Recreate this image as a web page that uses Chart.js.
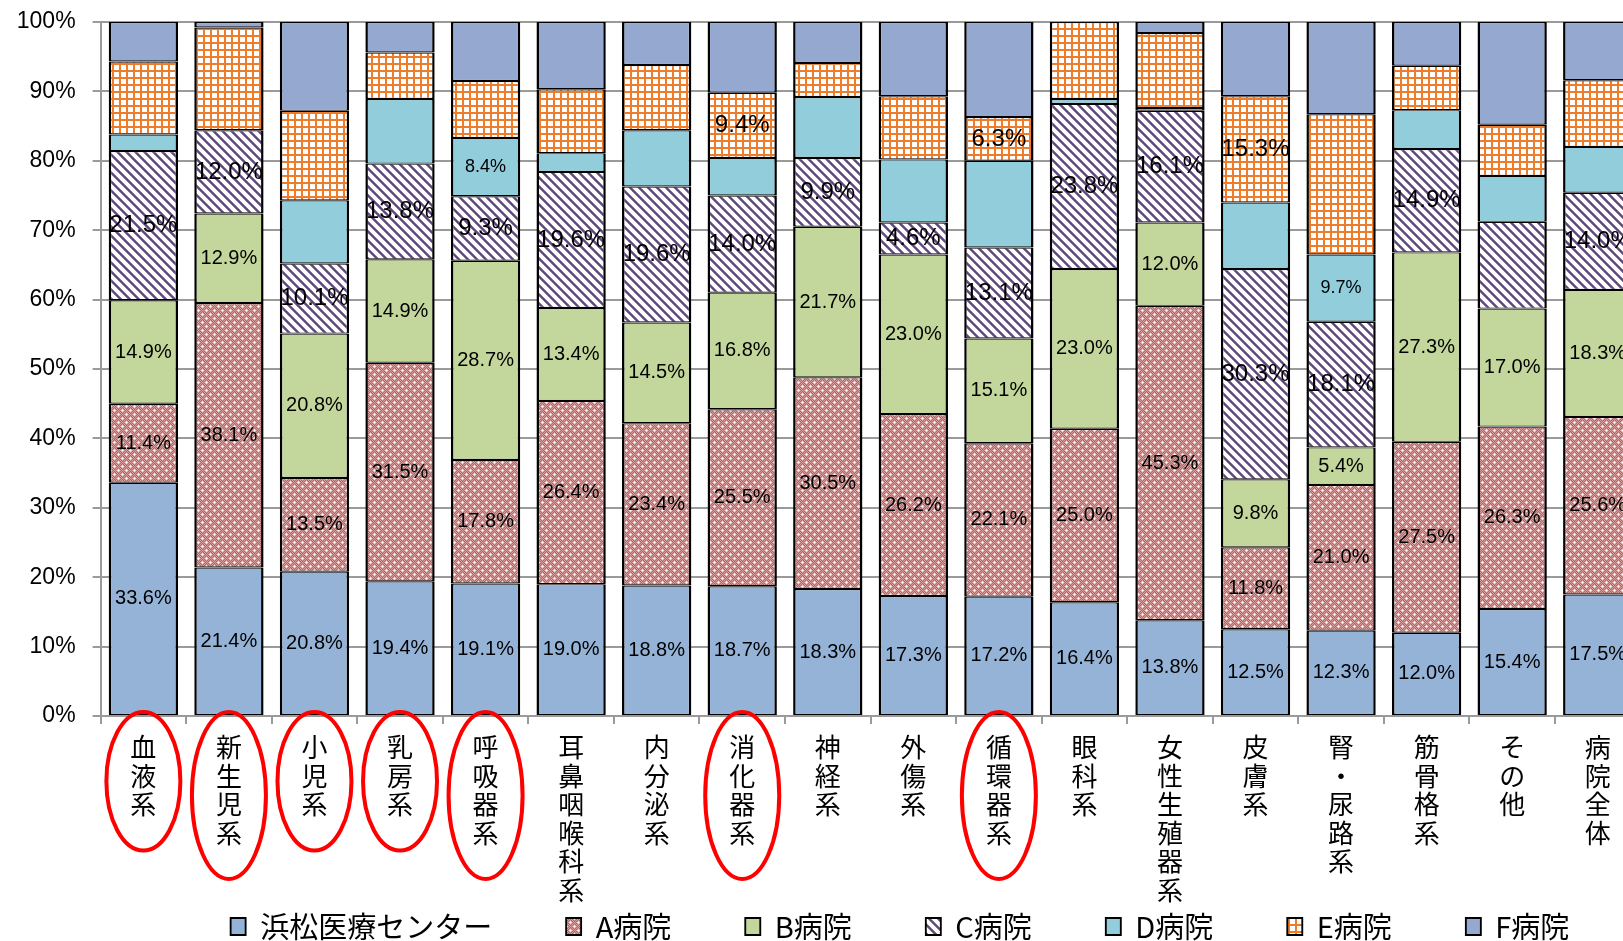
<!DOCTYPE html>
<html><head><meta charset="utf-8">
<script src="https://cdn.jsdelivr.net/npm/chart.js@4/dist/chart.umd.min.js"></script>
<style>
html,body{margin:0;padding:0;overflow:hidden;background:#fff;width:1623px;height:941px}
canvas{display:block}
</style></head><body>
<canvas id="c" width="1800" height="951" style="width:1800px;height:951px"></canvas>
<script>
const categories = ['血液系','新生児系','小児系','乳房系','呼吸器系','耳鼻咽喉科系','内分泌系','消化器系','神経系','外傷系','循環器系','眼科系','女性生殖器系','皮膚系','腎・尿路系','筋骨格系','その他','病院全体'];
const seriesNames = ['浜松医療センター','A病院','B病院','C病院','D病院','E病院','F病院'];
const hamamatsu = [33.6,21.4,20.8,19.4,19.1,19.0,18.8,18.7,18.3,17.3,17.2,16.4,13.8,12.5,12.3,12.0,15.4,17.5];
const hospitalA = [11.4,38.1,13.5,31.5,17.8,26.4,23.4,25.5,30.5,26.2,22.1,25.0,45.3,11.8,21.0,27.5,26.3,25.6];
const hospitalB = [14.9,12.9,20.8,14.9,28.7,13.4,14.5,16.8,21.7,23.0,15.1,23.0,12.0,9.8,5.4,27.3,17.0,18.3];
const hospitalC = [21.5,12.0,10.1,13.8,9.3,19.6,19.6,14.0,9.9,4.6,13.1,23.8,16.1,30.3,18.1,14.9,12.5,14.0];
const hospitalD = [2.4,0,9.1,9.3,8.4,2.7,8.1,5.4,8.8,9.1,12.5,0.7,0.4,9.6,9.7,5.6,6.6,6.6];
const hospitalE = [10.5,14.8,12.9,6.7,8.2,9.2,9.4,9.4,4.9,9.1,6.3,11.1,10.8,15.3,20.2,6.4,7.4,9.6];
const hospitalF = [5.7,0.8,12.8,4.4,8.5,9.7,6.2,10.2,5.9,10.7,13.7,0,1.6,10.7,13.3,6.3,14.8,8.4];
const yTicks = [0,10,20,30,40,50,60,70,80,90,100];
// which segments carry a value label (category indices), per series
const labeledAll = categories.map((_, i) => i);
const labelShown = [
  labeledAll,
  labeledAll,
  labeledAll,
  labeledAll.filter(i => i !== 16),
  [4, 14],
  [7, 10, 13],
  []
];
const circledIdx = [0, 1, 2, 3, 4, 7, 10];

// let multi-line category labels run below the axis box
Chart.CategoryScale.prototype._computeLabelArea = function () { return undefined; };

const ctx = document.getElementById('c').getContext('2d');
function makePattern(w, h, draw) {
  const c = document.createElement('canvas'); c.width = w; c.height = h;
  const g = c.getContext('2d'); draw(g, w, h);
  return ctx.createPattern(c, 'repeat');
}
const patA = makePattern(8, 8, (g) => {
  for (let y = 0; y < 8; y++) for (let x = 0; x < 8; x++) {
    g.fillStyle = ((x + y) % 2) ? '#B36868' : '#D69C9C';
    g.fillRect(x, y, 1, 1);
  }
  [[2,2],[6,6]].forEach(([px,py]) => {
    g.fillStyle = '#F0DADA';
    g.fillRect(px-1, py, 3, 1); g.fillRect(px, py-1, 1, 3);
    g.fillStyle = '#FFFFFF'; g.fillRect(px, py, 1, 1);
  });
});
const patC = makePattern(9, 9, (g) => {
  g.fillStyle = '#FFFFFF'; g.fillRect(0, 0, 9, 9);
  for (let y = 0; y < 9; y++) for (let x = 0; x < 9; x++) {
    const d = (((x - y) % 9) + 9) % 9;
    if (d < 4) { g.fillStyle = d === 0 || d === 3 ? '#8C7BA3' : '#5F497A'; g.fillRect(x, y, 1, 1); }
  }
});
const patE = makePattern(7, 7, (g) => {
  g.fillStyle = '#FFFFFF'; g.fillRect(0, 0, 7, 7);
  g.fillStyle = '#EE7D2B';
  g.fillRect(0, 0, 2, 7); g.fillRect(0, 0, 7, 2);
});

const seriesData = [hamamatsu, hospitalA, hospitalB, hospitalC, hospitalD, hospitalE, hospitalF];
const fills = ['#95B3D7', patA, '#C3D69B', patC, '#92CDDC', patE, '#94A8D0'];
const labelFontSizes = [20, 20, 20, 24, 18, 24, 20];

const datasets = seriesData.map((d, i) => ({
  label: seriesNames[i],
  data: d,
  backgroundColor: fills[i],
  borderColor: '#000000',
  borderWidth: {top: 1.2, bottom: 1.2, left: 2.5, right: 2.5},
  borderSkipped: false,
  categoryPercentage: 1,
  barPercentage: 0.81
}));

const segLabels = {
  id: 'segLabels',
  afterDatasetsDraw(chart) {
    const g = chart.ctx;
    chart.data.datasets.forEach((ds, di) => {
      const meta = chart.getDatasetMeta(di);
      g.save();
      g.font = labelFontSizes[di] + 'px "Liberation Sans"';
      g.fillStyle = '#000'; g.textAlign = 'center'; g.textBaseline = 'middle';
      meta.data.forEach((el, j) => {
        if (!labelShown[di].includes(j)) return;
        g.fillText(ds.data[j].toFixed(1) + '%', el.x, (el.y + el.base) / 2);
      });
      g.restore();
    });
  }
};
const ellipses = {
  id: 'ellipses',
  afterDraw(chart) {
    const g = chart.ctx, xs = chart.scales.x;
    g.save(); g.strokeStyle = '#FF0000'; g.lineWidth = 4;
    circledIdx.forEach(i => {
      const cx = xs.getPixelForValue(i);
      const n = Array.from(categories[i]).length;
      const ry = (n * 28.5 + 53) / 2;
      const top = xs.top - 4;
      g.beginPath(); g.ellipse(cx, top + ry, 37, ry, 0, 0, Math.PI * 2); g.stroke();
    });
    g.restore();
  }
};

new Chart(ctx, {
  type: 'bar',
  data: { labels: categories.map(s => Array.from(s)), datasets },
  options: {
    responsive: false, animation: false,
    layout: { padding: { top: 22, left: 0, right: 0, bottom: 0 } },
    plugins: {
      tooltip: { enabled: false },
      legend: {
        position: 'bottom',
        labels: { boxWidth: 15, boxHeight: 17, padding: 74, color: '#000',
          font: { family: '"Noto Sans CJK JP"', size: 29 } }
      }
    },
    scales: {
      x: {
        stacked: true,
        ticks: { color: '#000', autoSkip: false, maxRotation: 0, minRotation: 0, padding: 9,
          font: { family: '"Noto Sans CJK JP"', size: 26, lineHeight: 28.5 / 26 } },
        grid: { display: true, drawOnChartArea: false, drawTicks: true, tickLength: 8, color: '#9A9A9A', lineWidth: 2, offset: true },
        border: { color: '#9A9A9A', width: 2 },
        afterFit: s => { s.height = 122; s.paddingLeft = 0; s.paddingRight = 0; }
      },
      y: {
        stacked: true, min: 0, max: 100,
        afterBuildTicks: s => { s.ticks = yTicks.map(v => ({ value: v })); },
        ticks: { color: '#000', padding: 17, callback: v => v + '%',
          font: { family: '"Liberation Sans"', size: 23 } },
        grid: { color: '#9A9A9A', lineWidth: 2, tickLength: 8, drawTicks: true },
        border: { color: '#9A9A9A', width: 2 },
        afterFit: s => { s.width = 100.6; s.paddingTop = 0; s.paddingBottom = 0; }
      },
      y2: {
        position: 'right', display: true, min: 0, max: 100,
        ticks: { display: false },
        grid: { drawOnChartArea: false, drawTicks: false },
        border: { display: false },
        afterFit: s => { s.width = 159.5; s.paddingTop = 0; s.paddingBottom = 0; }
      }
    }
  },
  plugins: [segLabels, ellipses]
});
</script>
</body></html>
